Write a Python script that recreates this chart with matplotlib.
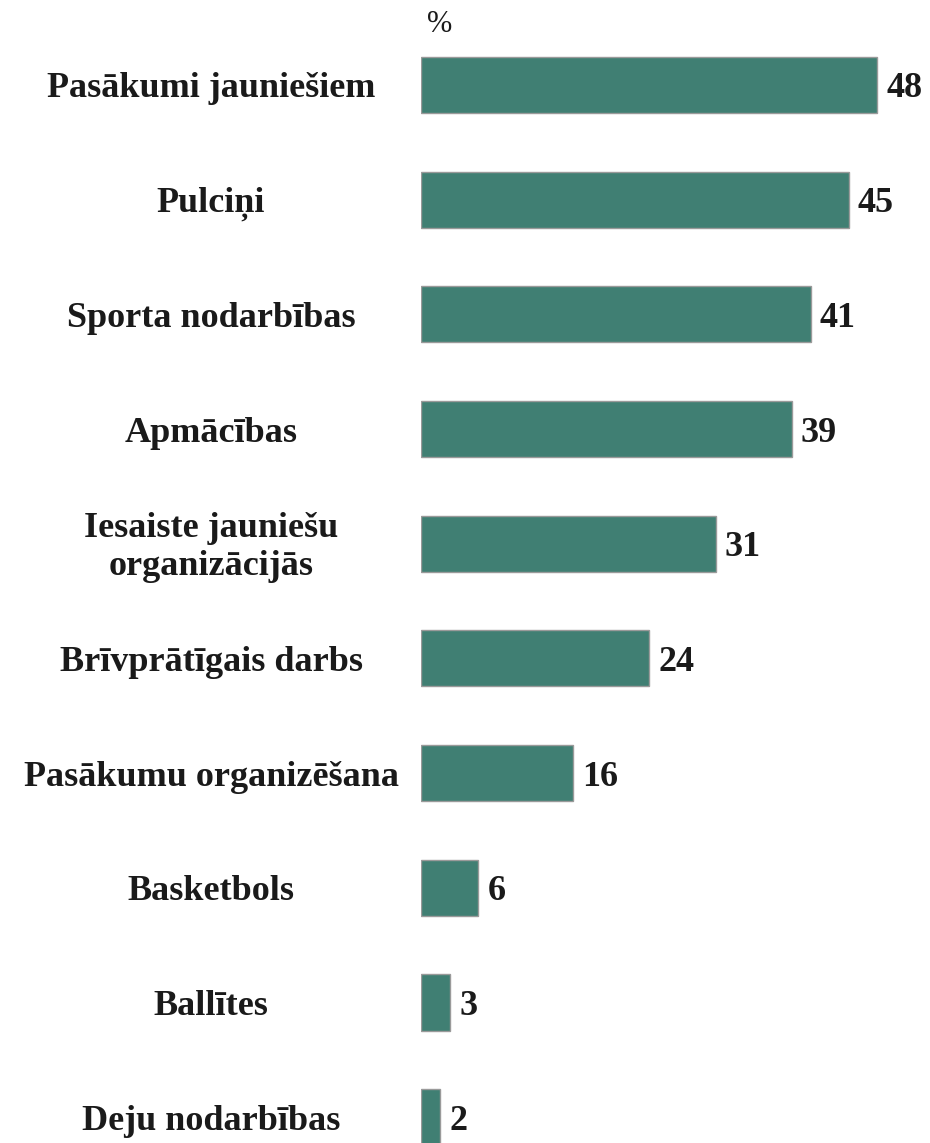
import matplotlib.pyplot as plt
from matplotlib.transforms import blended_transform_factory

categories = ['Pasākumi jauniešiem', 'Pulciņi', 'Sporta nodarbības', 'Apmācības',
              'Iesaiste jauniešu\norganizācijās', 'Brīvprātīgais darbs',
              'Pasākumu organizēšana', 'Basketbols', 'Ballītes', 'Deju nodarbības']
values = [48, 45, 41, 39, 31, 24, 16, 6, 3, 2]

W, H = 930, 1143
fig = plt.figure(figsize=(W / 100, H / 100), dpi=100)
ax = fig.add_axes([421 / W, 0, 1 - 421 / W, 1])

pos = list(range(len(values)))
ax.barh(pos, values, height=0.49, color='#407f73', edgecolor='#9a9a9a', linewidth=1.0)
ax.set_xlim(0, (W - 421) / 9.5)
ax.set_ylim(9.226, -0.741)
ax.axis('off')

font = dict(family='Liberation Serif', fontweight='bold', fontsize=26, color='#1a1a1a')
trans = blended_transform_factory(fig.transFigure, ax.transData)
for i, (c, v) in enumerate(zip(categories, values)):
    ax.text(v + 1.0, i + 0.035, str(v), ha='left', va='center', **font)
    fig.text(211 / W, i + 0.035, c, ha='center', va='center', transform=trans,
             multialignment='center', linespacing=1.2, **font)

fig.text(440 / W, 1 - 25 / H, '%', ha='center', va='center', family='Liberation Serif',
         fontsize=22, color='#1a1a1a')

fig.savefig('out.png', dpi=100)
